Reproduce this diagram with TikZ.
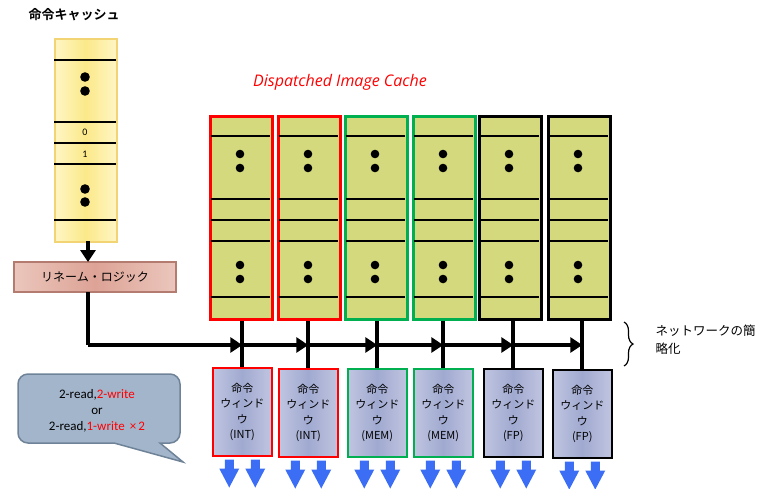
\documentclass[tikz,border=0pt]{standalone}
\usepackage{fontspec}
\setmainfont{Noto Sans CJK JP}
\newfontfamily\cjkbold{Noto Sans CJK JP Bold}
\newfontfamily\calfont{Carlito}
\newfontfamily\itfont{Open Sans}
\usetikzlibrary{arrows.meta,decorations.pathreplacing}
\definecolor{iclight}{HTML}{FFF6C4}
\definecolor{icmid}{HTML}{FBE98A}
\definecolor{icborder}{HTML}{F2D474}
\definecolor{dicfill}{HTML}{D4D97E}
\definecolor{rnlight}{HTML}{EBC6BC}
\definecolor{rnmid}{HTML}{DDA396}
\definecolor{rnborder}{HTML}{B47C70}
\definecolor{winlight}{HTML}{C0C5E0}
\definecolor{winmid}{HTML}{A0A9D0}
\definecolor{callfill}{HTML}{A3B5CB}
\definecolor{callborder}{HTML}{6F8398}
\definecolor{myred}{HTML}{FF0000}
\definecolor{mygreen}{HTML}{00B050}
\definecolor{arrowblue}{HTML}{3B6EF5}
\begin{document}
\begin{tikzpicture}[x=1pt,y=-1pt,
  iccache/.style={draw=icborder, line width=1.5pt, left color=iclight, right color=iclight, middle color=icmid, minimum width=62pt, minimum height=203pt, inner sep=0pt, anchor=north west},
  dcol/.style={draw=#1, line width=2.5pt, fill=dicfill, minimum width=62pt, minimum height=203pt, inner sep=0pt, anchor=north west},
  win/.style={draw=#1, line width=1.5pt, left color=winlight, right color=winlight, middle color=winmid, minimum width=59pt, minimum height=88pt, inner sep=0pt, anchor=north west, align=center, font=\fontsize{11}{15.5}\selectfont},
  sep/.style={line width=1.6pt},
  dotc/.style={fill=black},
  bus/.style={line width=4pt},
  tip/.style={-{Triangle[length=12pt,width=15pt]}},
  barrow/.pic={\fill[arrowblue] (-4.5,0) -- (4.5,0) -- (4.5,9) -- (10,9) -- (0,28) -- (-10,9) -- (-4.5,9) -- cycle;}
]
\useasboundingbox (0,0) rectangle (767,488);

% title
\node[anchor=west, font=\cjkbold\fontsize{13}{15}\selectfont] (title) at (25,15) {命令キャッシュ};

% instruction cache
\node[iccache] (ic) at (54,38) {};
\foreach \yy in {60,122,143,164,220} \draw[sep] (54,\yy) -- (116,\yy);
\foreach \yy in {77,91,189,202} \fill[dotc] (85,\yy) circle (4.8pt);
\node[font=\calfont\fontsize{10}{11}\selectfont] (n0) at (85,132) {0};
\node[font=\calfont\fontsize{10}{11}\selectfont] (n1) at (85,154) {1};

% rename logic
\node[draw=rnborder, line width=1.5pt, left color=rnlight, right color=rnlight, middle color=rnmid, minimum width=162pt, minimum height=30pt, inner sep=0pt, font=\fontsize{12}{14}\selectfont] (rn) at (95,277) {リネーム・ロジック};
\draw[bus, tip] (88,241) -- (88,262);

% dispatched image cache label
\node[font=\itfont\itshape\fontsize{16}{18}\selectfont, text=myred] (dic) at (340,82) {Dispatched Image Cache};

% columns
\foreach \i/\xl/\c in {1/209/myred,2/277/myred,3/344/mygreen,4/412/mygreen,5/478/black,6/547/black}{
  \node[dcol=\c] (col\i) at (\xl,115) {};
  \foreach \yy in {136,199,220,241,297} \draw[sep] (\xl+1.5,\yy) -- (\xl+60.5,\yy);
  \foreach \yy in {154,168,265,279} \fill[dotc] (\xl+31,\yy) circle (4.3pt);
}

% windows
\node[win=myred] (w1) at (212,367) {命令\\ウィンド\\ウ\\(INT)};
\node[win=myred] (w2) at (278,368) {命令\\ウィンド\\ウ\\(INT)};
\node[win=mygreen] (w3) at (347,368) {命令\\ウィンド\\ウ\\(MEM)};
\node[win=mygreen] (w4) at (413,368) {命令\\ウィンド\\ウ\\(MEM)};
\node[win=black] (w5) at (483,368) {命令\\ウィンド\\ウ\\(FP)};
\node[win=black] (w6) at (552,369) {命令\\ウィンド\\ウ\\(FP)};

% bus
\coordinate (b0) at (88,345);
\draw[bus] (88,292) -- (b0);
\foreach \i in {1,...,6} \coordinate (t\i) at (w\i.north |- b0);
\draw[bus, tip] (b0) -- (t1);
\draw[bus, tip] (t1) -- (t2);
\draw[bus, tip] (t2) -- (t3);
\draw[bus, tip] (t3) -- (t4);
\draw[bus, tip] (t4) -- (t5);
\draw[bus, tip] (t5) -- (t6);
\foreach \i in {1,...,6} \draw[bus] (w\i.north |- col\i.south) -- (w\i.north);

% blue arrows
\foreach \i in {1,...,6}{
  \path (w\i.south) ++(-13,3) pic {barrow};
  \path (w\i.south) ++(13,3) pic {barrow};
}

% callout
\path[draw=callborder, fill=callfill, line width=1.5pt, rounded corners=10pt]
  (18,410) -- (18,374) -- (180,374) -- (180,443) [sharp corners] -- (160,443) -- (183,462) -- (114,443) [rounded corners=10pt] -- (18,443) -- cycle;
\node[font=\calfont\fontsize{13}{16}\selectfont, align=center] (ct) at (97,411)
  {2-read,\textcolor{myred}{2-write}\\or\\2-read,\textcolor{myred}{1-write \,×\,2}};

% brace
\draw[line width=1.2pt, decorate, decoration={brace, amplitude=9pt}] (624,322) -- (624,366);
\node[anchor=north west, align=left, font=\fontsize{12.5}{18}\selectfont] (net) at (652,321) {ネットワークの簡\\略化};
\end{tikzpicture}
\end{document}
